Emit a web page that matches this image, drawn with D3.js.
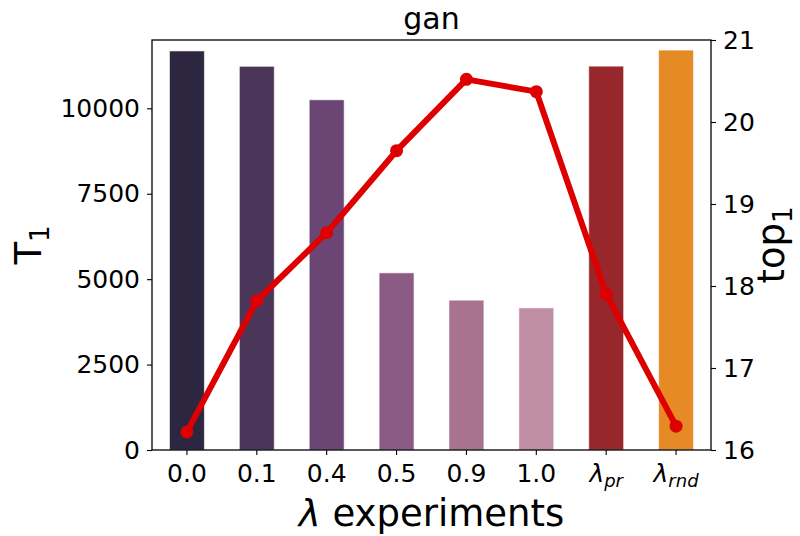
<!DOCTYPE html>
<html>
<head>
<meta charset="utf-8">
<script src="https://cdn.jsdelivr.net/npm/d3@7/dist/d3.min.js"></script>
<style>
  body { margin: 0; background: #fff; }
  svg text { font-family: "DejaVu Sans", sans-serif; fill: #000; }
</style>
</head>
<body>
<svg id="chart" width="800" height="536"></svg>
<script>
// Experiment categories (λ settings)
const categories = ["0.0", "0.1", "0.4", "0.5", "0.9", "1.0", "pr", "rnd"];
// Bar series: T1 per experiment (left axis)
const t1Values = [11680, 11230, 10250, 5185, 4385, 4160, 11235, 11705];
// Line series: top1 per experiment (right axis)
const top1Values = [16.22, 17.82, 18.65, 19.65, 20.52, 20.37, 17.90, 16.29];
// Bar fill colours
const barColors = ["#2d2640", "#4b3659", "#6b4574", "#8b5a85", "#a8738f", "#c08ea2", "#98272b", "#e58a24"];
// Tick values
const leftTicks = [0, 2500, 5000, 7500, 10000];
const rightTicks = [16, 17, 18, 19, 20, 21];

const TICK_FONT = 25;
const LABEL_FONT = 37;

const svg = d3.select("#chart");
const m = { left: 152, right: 711, top: 40, bottom: 450 };

const x = d3.scaleBand()
  .domain(categories)
  .range([m.left, m.right])
  .paddingInner(0.5)
  .paddingOuter(0.25);

const yL = d3.scaleLinear().domain([0, 12000]).range([m.bottom, m.top]);
const yR = d3.scaleLinear().domain([16, 21]).range([m.bottom, m.top]);

// Bars
svg.append("g").selectAll("rect")
  .data(categories)
  .join("rect")
  .attr("x", d => x(d))
  .attr("width", x.bandwidth())
  .attr("y", (d, i) => yL(t1Values[i]))
  .attr("height", (d, i) => yL(0) - yL(t1Values[i]))
  .attr("fill", (d, i) => barColors[i])
  .attr("stroke", "rgba(255,255,255,0.6)")
  .attr("stroke-width", 1);

// Line + markers
const cx = d => x(d) + x.bandwidth() / 2;
const line = d3.line()
  .x((d, i) => cx(categories[i]))
  .y(d => yR(d));
svg.append("path")
  .datum(top1Values)
  .attr("d", line)
  .attr("fill", "none")
  .attr("stroke", "#de0000")
  .attr("stroke-width", 6)
  .attr("stroke-linejoin", "round");
svg.append("g").selectAll("circle")
  .data(top1Values)
  .join("circle")
  .attr("cx", (d, i) => cx(categories[i]))
  .attr("cy", d => yR(d))
  .attr("r", 6.5)
  .attr("fill", "#de0000");

// Axes
const fmtTick = g => {
  g.attr("font-size", TICK_FONT).attr("font-family", "DejaVu Sans, sans-serif");
  g.select(".domain").remove();
  g.selectAll(".tick line").attr("stroke", "#000").attr("stroke-width", 1.1);
};

svg.append("g")
  .attr("transform", `translate(${m.left},0)`)
  .call(d3.axisLeft(yL).tickValues(leftTicks).tickFormat(d3.format("d")).tickSize(5).tickPadding(7))
  .call(fmtTick);

svg.append("g")
  .attr("transform", `translate(${m.right},0)`)
  .call(d3.axisRight(yR).tickValues(rightTicks).tickFormat(d3.format("d")).tickSize(5).tickPadding(7))
  .call(fmtTick);

const xAxis = svg.append("g")
  .attr("transform", `translate(0,${m.bottom})`)
  .call(d3.axisBottom(x).tickSize(5).tickPadding(9))
  .call(fmtTick);

// Subscripted λ labels for the last two ticks
xAxis.selectAll(".tick text").each(function(d) {
  const t = d3.select(this);
  if (d === "pr" || d === "rnd") {
    t.text(null);
    t.append("tspan").attr("font-style", "italic").text("λ");
    t.append("tspan").attr("font-style", "italic").attr("font-size", "18px")
      .attr("dy", "0.3em").text(d);
  }
});

// Frame
svg.append("rect")
  .attr("x", m.left).attr("y", m.top)
  .attr("width", m.right - m.left).attr("height", m.bottom - m.top)
  .attr("fill", "none").attr("stroke", "#000").attr("stroke-width", 1.3);

// Title
svg.append("text")
  .attr("x", (m.left + m.right) / 2).attr("y", 29)
  .attr("text-anchor", "middle").attr("font-size", "30px")
  .text("gan");

// X label
const xl = svg.append("text")
  .attr("x", (m.left + m.right) / 2).attr("y", 526)
  .attr("text-anchor", "middle").attr("font-size", LABEL_FONT);
xl.append("tspan").attr("font-style", "italic").text("λ");
xl.append("tspan").text(" experiments");

// Left Y label
const yl = svg.append("text")
  .attr("transform", `translate(41,${(m.top + m.bottom) / 2}) rotate(-90)`)
  .attr("text-anchor", "middle").attr("font-size", LABEL_FONT);
yl.append("tspan").text("T");
yl.append("tspan").attr("font-size", "26px").attr("dy", "0.3em").text("1");

// Right Y label
const yr = svg.append("text")
  .attr("transform", `translate(784,${(m.top + m.bottom) / 2}) rotate(-90)`)
  .attr("text-anchor", "middle").attr("font-size", LABEL_FONT);
yr.append("tspan").text("top");
yr.append("tspan").attr("font-size", "26px").attr("dy", "0.3em").text("1");
</script>
</body>
</html>
